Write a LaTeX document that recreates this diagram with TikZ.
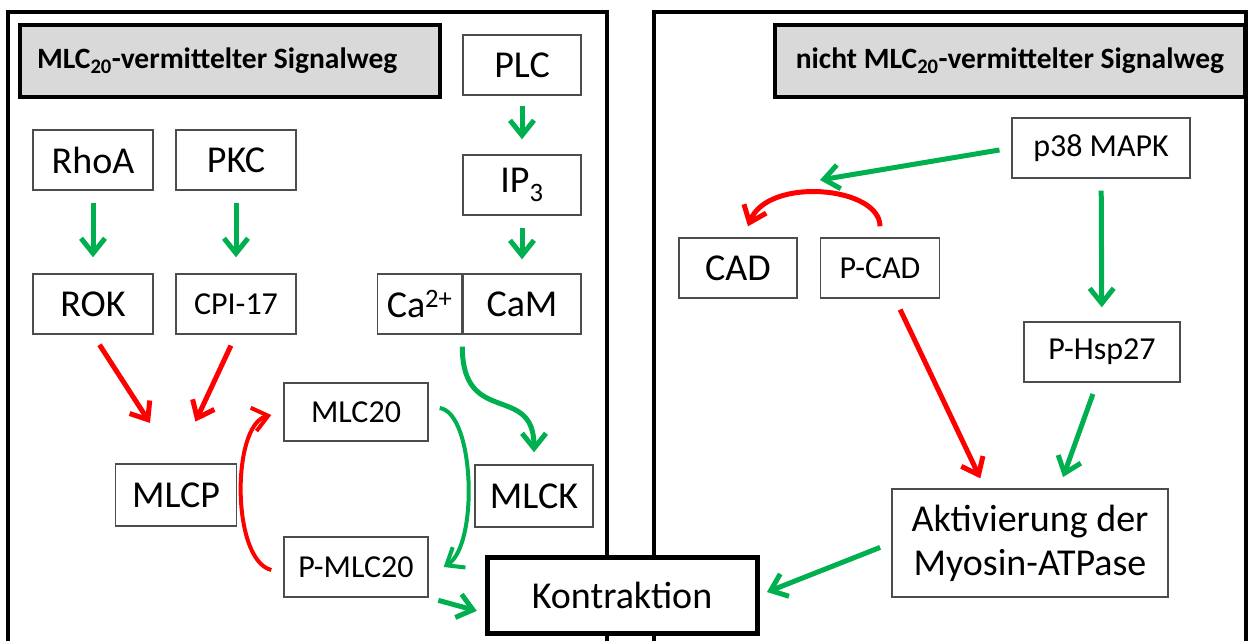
\documentclass[tikz,border=0pt]{standalone}
\usepackage{fontspec}
\setmainfont{Carlito}
\usepackage{tikz}
\usetikzlibrary{arrows.meta, positioning, calc}
\definecolor{actgreen}{RGB}{0,176,80}
\definecolor{titlegray}{RGB}{217,217,217}

\begin{document}
\begin{tikzpicture}[
    x = 1pt, y = -1pt, > = {Straight Barb[length = 15pt, width = 24pt]},
    box/.style = {rectangle, draw = black!70, line width = 1.4pt, fill = white, inner sep = 0pt, font = \fontsize{38}{44}\selectfont},
    smallbox/.style = {box, font = \fontsize{32}{38}\selectfont},
    titlebox/.style = {rectangle, draw, line width = 4pt, fill = titlegray, inner sep = 0pt, minimum height = 72pt, font = \fontsize{29.5}{34}\selectfont\bfseries},
    panel/.style = {line width = 3.5pt},
    greenpath/.style = {->, actgreen, line width = 5pt, shorten <= 12pt, shorten >= 14pt},
    redpath/.style = {->, red, line width = 5pt, shorten <= 12pt, shorten >= 14pt},
    ]
    \useasboundingbox (0,0) rectangle (1250,640);

    % draw the two panels
    \draw [panel] (8,660) -- (8,12) -- (607,12) -- (607,660);
    \draw [panel] (654,660) -- (654,12) -- (1246,12) -- (1246,660);

    % left panel: MLC20 pathway
    \node [titlebox, minimum width = 420pt, text width = 386pt, align = flush left] (titleL) at (230,61) {MLC\textsubscript{20}-vermittelter Signalweg};
    \node [box, minimum width = 118pt, minimum height = 60pt] (plc)  at (522,65)  {PLC};
    \node [box, minimum width = 118pt, minimum height = 60pt] (ip3)  at (522,185) {IP\textsubscript{3}};
    \node [box, minimum width = 118pt, minimum height = 60pt] (cam)  at (522,304) {CaM};
    \node [box, minimum width = 84pt, minimum height = 60pt]  (ca)   [left = 0pt of cam] {Ca\textsuperscript{2+}};
    \node [box, minimum width = 120pt, minimum height = 60pt] (rhoa) at (93,160)  {RhoA};
    \node [box, minimum width = 120pt, minimum height = 60pt] (pkc)  at (236,160) {PKC};
    \node [box, minimum width = 120pt, minimum height = 60pt] (rok)  at (93,304)  {ROK};
    \node [smallbox, minimum width = 120pt, minimum height = 60pt] (cpi) at (236,304) {CPI-17};
    \node [smallbox, minimum width = 144pt, minimum height = 58pt] (mlc)  at (356,412) {MLC20};
    \node [smallbox, minimum width = 144pt, minimum height = 60pt] (pmlc) at (356,567) {P-MLC20};
    \node [box, minimum width = 121pt, minimum height = 62pt] (mlcp) at (176,495) {MLCP};
    \node [box, minimum width = 118pt, minimum height = 62pt] (mlck) at (534,496) {MLCK};

    % right panel: non-MLC20 pathway
    \node [titlebox, minimum width = 470pt] (titleR) at (1010,61) {nicht MLC\textsubscript{20}-vermittelter Signalweg};
    \node [smallbox, minimum width = 178pt, minimum height = 60pt] (p38)  at (1101,148) {p38 MAPK};
    \node [box, minimum width = 118pt, minimum height = 60pt] (cad)  at (738,268) {CAD};
    \node [smallbox, minimum width = 119pt, minimum height = 60pt] (pcad) at (880,268) {P-CAD};
    \node [smallbox, minimum width = 156pt, minimum height = 60pt] (phsp) at (1102,352) {P-Hsp27};
    \node [box, minimum width = 276pt, minimum height = 108pt, align = center] (akt) at (1030,543) {Aktivierung der\\Myosin-ATPase};
    \coordinate (cadswitch) at (820,180);

    % shared outcome
    \node [box, draw = black, line width = 5pt, minimum width = 270pt, minimum height = 76pt] (kontr) at (622,595) {Kontraktion};

    % draw paths, left panel
    \draw [greenpath, shorten <= 10pt, shorten >= 15pt] (plc) -- (ip3);
    \draw [greenpath] (ip3) -- (cam);
    \draw [greenpath, shorten >= 16pt] (rhoa) -- (rok);
    \draw [greenpath, shorten >= 16pt] (pkc) -- (cpi);
    \draw [redpath, shorten >= 48pt] (rok.south) -- (mlcp.north);
    \draw [redpath, shorten >= 46pt] (cpi.south) -- (mlcp.north);
    \draw [greenpath, shorten >= 12pt] (cam.south west) .. controls +(0,93) and +(0,-82) .. (mlck.north);
    \draw [greenpath, line width = 4pt, shorten <= 0pt, shorten >= 0pt] ($(mlc.east)+(11,-4)$) .. controls +(35,5) and +(35,-22) .. ($(pmlc.east)+(15,0)$);
    \draw [redpath, line width = 4pt, shorten <= 0pt, shorten >= 0pt] ($(pmlc.west)+(-12,3)$) .. controls +(-40,-10) and +(-40,10) .. ($(mlc.west)+(-12,3)$);
    \draw [greenpath, shorten <= 10pt, shorten >= 8pt] (pmlc.south east) -- ($(kontr.west)+(0,18)$);

    % draw paths, right panel
    \draw [greenpath, shorten >= 0pt] (p38.west) -- (cadswitch);
    \draw [redpath, line width = 5pt, shorten <= 0pt, shorten >= 0pt] ($(pcad.north)+(0,-11)$) .. controls +(0,-40) and +(20,-50) .. ($(cad.north)+(10,-11)$);
    \draw [greenpath] (p38) -- (phsp);
    \draw [redpath, shorten >= 11pt] ($(pcad.south)+(15,0)$) -- ($(akt.north)+(-45,0)$);
    \draw [greenpath, shorten >= 12pt] ($(phsp.south)+(-5,0)$) -- ($(akt.north)+(29,0)$);
    \draw [greenpath, shorten >= 8pt] (akt.west) -- (kontr.east);
\end{tikzpicture}
\end{document}
